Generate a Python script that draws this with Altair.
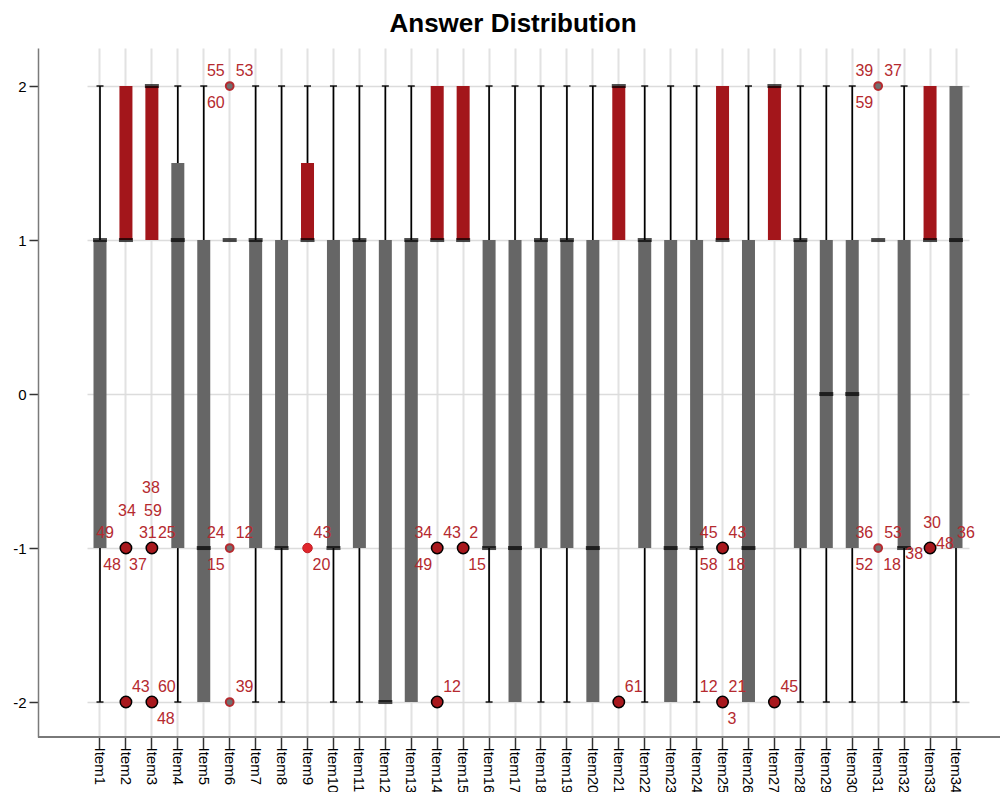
import altair as alt
import pandas as pd

items = [f"Item{i}" for i in range(1, 35)]
lower_whisker = [-2, 1, 1, -2, -2, 1, -2, -2, 1, -2, -2, -2, -2, 1, 1, -2, -2,
                 -2, -2, -2, 1, -2, -2, -2, 1, -2, 1, -2, -2, -2, 1, -2, 1, -2]
q1 = [-1, 1, 1, -1, -2, 1, -1, -1, 1, -1, -1, -2, -2, 1, 1, -1, -2,
      -1, -1, -2, 1, -1, -2, -1, 1, -2, 1, -1, -1, -1, 1, -1, 1, -1]
median = [1, 1, 2, 1, -1, 1, 1, -1, 1, -1, 1, -2, 1, 1, 1, -1, -1,
          1, 1, -1, 2, 1, -1, -1, 1, -1, 2, 1, 0, 0, 1, -1, 1, 1]
q3 = [1, 2, 2, 1.5, 1, 1, 1, 1, 1.5, 1, 1, 1, 1, 2, 2, 1, 1,
      1, 1, 1, 2, 1, 1, 1, 2, 1, 2, 1, 1, 1, 1, 1, 2, 2]
upper_whisker = [2, 2, 2, 2, 2, 1, 2, 2, 2, 2, 2, 2, 2, 2, 2, 2, 2,
                 2, 2, 2, 2, 2, 2, 2, 2, 2, 2, 2, 2, 2, 1, 2, 2, 2]
box_group = ["grey", "red", "red", "grey", "grey", "grey", "grey", "grey", "red",
             "grey", "grey", "grey", "grey", "red", "red", "grey", "grey", "grey",
             "grey", "grey", "red", "grey", "grey", "grey", "red", "grey", "red",
             "grey", "grey", "grey", "grey", "grey", "red", "grey"]

outlier_item = [2, 2, 3, 3, 6, 6, 6, 9, 14, 14, 15, 21, 25, 25, 27, 31, 31, 33]
outlier_value = [-1, -2, -1, -2, 2, -1, -2, -1, -1, -2, -1, -2, -1, -2, -2, 2, -1, -1]
outlier_kind = ["dark", "dark", "dark", "dark", "hollow", "hollow", "hollow", "bright",
                "dark", "dark", "dark", "dark", "dark", "dark", "dark", "hollow",
                "hollow", "dark"]

label_item = [6, 6, 6, 31, 31, 31,
              2, 2, 2, 2, 3, 3, 3, 3,
              6, 6, 6, 9, 9, 14, 14, 14, 15, 15,
              25, 25, 25, 25, 31, 31, 31, 31, 33, 33, 33, 33,
              2, 3, 3, 6, 14, 21, 25, 25, 25, 27]
label_value = [2, 2, 2, 2, 2, 2,
               -1, -1, -1, -1, -1, -1, -1, -1,
               -1, -1, -1, -1, -1, -1, -1, -1, -1, -1,
               -1, -1, -1, -1, -1, -1, -1, -1, -1, -1, -1, -1,
               -2, -2, -2, -2, -2, -2, -2, -2, -2, -2]
label_text = ["55", "53", "60", "39", "37", "59",
              "49", "48", "34", "31", "25", "37", "59", "38",
              "24", "12", "15", "43", "20", "34", "43", "49", "2", "15",
              "45", "43", "58", "18", "36", "53", "52", "18", "30", "48", "38", "36",
              "43", "60", "48", "39", "12", "61", "12", "21", "3", "45"]
label_slot = ["ul", "ur", "ll", "ul", "ur", "ll",
              "ulf", "ll", "up", "urf", "ur", "ll", "up", "up2",
              "ul", "ur", "ll", "ur", "lr", "ul", "ur", "ll", "ur", "lr",
              "ul", "ur", "ll", "lr", "ul", "ur", "ll", "lr", "top", "r", "l", "far",
              "ur", "ur", "lr", "ur", "ur", "ur", "ul", "ur", "lr", "ur"]

# slot -> (align, dx, dy)
slots = {
    "ul": ("right", -5, -15), "ur": ("left", 6, -15),
    "ll": ("right", -5, 17), "lr": ("left", 5, 17),
    "ulf": ("right", -12, -15), "urf": ("left", 13, -15),
    "up": ("center", 1, -37), "up2": ("center", -1, -60),
    "top": ("center", 2, -25), "r": ("left", 6, -4),
    "l": ("right", -7, 6), "far": ("left", 27, -15),
}

FONT = "Liberation Sans"
GREY = "#666666"
RED = "#A3161B"
LABEL_RED = "#B52A2F"
W, H = 962, 689

box_df = pd.DataFrame({"item": items, "lw": lower_whisker, "q1": q1, "med": median,
                       "q3": q3, "uw": upper_whisker, "grp": box_group})
out_df = pd.DataFrame({"item": [f"Item{i}" for i in outlier_item],
                       "value": outlier_value, "kind": outlier_kind})
lab_df = pd.DataFrame({"item": [f"Item{i}" for i in label_item],
                       "value": label_value, "text": label_text, "slot": label_slot})

xscale = alt.Scale(domain=items, paddingInner=0, paddingOuter=0, range=[49.03, 930.97],
                   round=False)
yscale = alt.Scale(domain=[-2.227, 2.247], nice=False, zero=False)

X = alt.X("item:N", scale=xscale, sort=items,
          axis=alt.Axis(title=None, labelAngle=90, labelFontSize=15, labelColor="black",
                        labelFont=FONT, tickColor="#333333", tickSize=12, tickWidth=1.5,
                        labelPadding=-2, domain=False,
                        grid=True, gridColor="#e2e2e2", gridWidth=2, bandPosition=0.5))
Y = alt.Y("q1:Q", scale=yscale,
          axis=alt.Axis(title=None, values=[-2, -1, 0, 1, 2], labelFontSize=15,
                        labelExpr="datum.value < 0 ? '-' + (-datum.value) : '' + datum.value",
                        labelColor="black", labelFont=FONT, tickColor="#333333", tickSize=9,
                        tickWidth=1.5, labelPadding=3, domainColor="#7a7a7a", domainWidth=1.5,
                        grid=True, gridColor="#dcdcdc", gridWidth=1.5))

base = alt.Chart(box_df)

bottom_line = base.mark_rule(color="#7a7a7a", strokeWidth=1.5).encode(
    x=alt.value(0), x2=alt.value(W), y=alt.value(H))

lower_rule = base.transform_filter("datum.lw < datum.q1").mark_rule(
    color="black", strokeWidth=1.7).encode(x=X, y=alt.Y("lw:Q", scale=yscale), y2="q1:Q")
upper_rule = base.transform_filter("datum.uw > datum.q3").mark_rule(
    color="black", strokeWidth=1.7).encode(x=X, y=alt.Y("q3:Q", scale=yscale), y2="uw:Q")
lower_cap = base.transform_filter("datum.lw < datum.q1").mark_tick(
    color="black", size=7, thickness=2).encode(x=X, y=alt.Y("lw:Q", scale=yscale))
upper_cap = base.transform_filter("datum.uw > datum.q3").mark_tick(
    color="black", size=7, thickness=2).encode(x=X, y=alt.Y("uw:Q", scale=yscale))

boxes = base.mark_bar(size=13).encode(
    x=X, y=Y, y2="q3:Q",
    color=alt.Color("grp:N", scale=alt.Scale(domain=["grey", "red"], range=[GREY, RED]),
                    legend=None))
medians = base.mark_tick(color="black", size=14, thickness=4).encode(
    x=X, y=alt.Y("med:Q", scale=yscale))

out_base = alt.Chart(out_df)
dark_pts = out_base.transform_filter("datum.kind == 'dark'").mark_point(
    shape="circle", filled=True, fill="#A8181D", stroke="black", strokeWidth=1.5,
    size=130, opacity=1).encode(x=X, y=alt.Y("value:Q", scale=yscale))
hollow_pts = out_base.transform_filter("datum.kind == 'hollow'").mark_point(
    shape="circle", filled=True, fill="#707070", stroke="#B52A2F", strokeWidth=2,
    size=60, opacity=1).encode(x=X, y=alt.Y("value:Q", scale=yscale))
bright_pts = out_base.transform_filter("datum.kind == 'bright'").mark_point(
    shape="circle", filled=True, fill="#E0262C", stroke="#C01E24", strokeWidth=1,
    size=90, opacity=1).encode(x=X, y=alt.Y("value:Q", scale=yscale))

text_layers = []
for s, (al, dx, dy) in slots.items():
    text_layers.append(
        alt.Chart(lab_df).transform_filter(alt.datum.slot == s).mark_text(
            align=al, baseline="middle", dx=dx, dy=dy, fontSize=16, font=FONT,
            color=LABEL_RED).encode(x=X, y=alt.Y("value:Q", scale=yscale), text="text:N"))

chart = alt.layer(
    lower_rule, upper_rule, boxes, medians, lower_cap, upper_cap, bottom_line,
    dark_pts, hollow_pts, bright_pts, *text_layers
).properties(
    width=W, height=H,
    title=alt.TitleParams("Answer Distribution", fontSize=26, fontWeight="bold",
                          font=FONT, color="black", anchor="middle", offset=11, dx=-6),
    autosize=alt.AutoSizeParams(type="none"),
    padding={"left": 30, "top": 40, "right": 0, "bottom": 55},
).configure_view(stroke=None)

chart.save("out.html", embed_options={"renderer": "svg", "actions": False})
